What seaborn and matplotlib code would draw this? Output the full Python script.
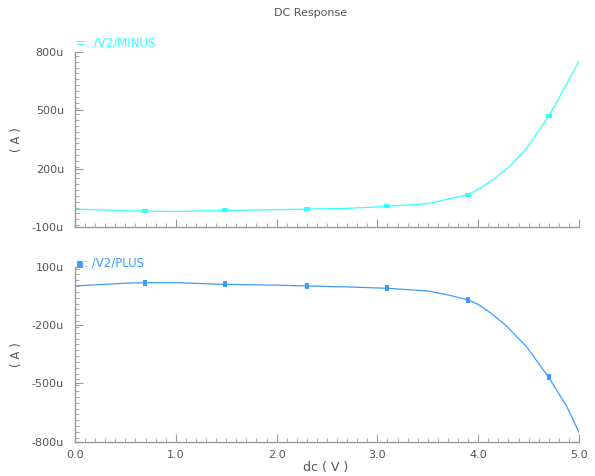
import matplotlib
matplotlib.use("Agg")
import matplotlib.pyplot as plt
from matplotlib.ticker import MultipleLocator, FuncFormatter
import seaborn as sns
import pandas as pd

# values (current in uA vs dc sweep in V)
dc_minus = [0.0, 0.5, 0.69, 1.0, 1.49, 2.0, 2.30, 2.7, 3.0, 3.10, 3.5, 3.90,
            4.0, 4.15, 4.32, 4.48, 4.70, 4.81, 5.0]
i_minus = [-8, -16, -18, -20, -15, -11, -8, -4, 3, 6, 20, 67,
           92, 145, 215, 305, 470, 571, 754]

dc_plus = [0.0, 0.5, 0.69, 1.0, 1.49, 2.0, 2.30, 2.7, 3.10, 3.5, 3.7, 3.90,
           4.0, 4.13, 4.27, 4.48, 4.70, 4.88, 5.0]
i_plus = [1, 15, 18, 18, 9, 5, 1, -4, -11, -25, -45, -71,
          -94, -140, -200, -312, -469, -620, -752]

marker_dc = [0.69, 1.49, 2.30, 3.10, 3.90, 4.70]

y_ticks_minus = [-100, 200, 500, 800]
y_ticks_plus = [-800, -500, -200, 100]
x_ticks = [0.0, 1.0, 2.0, 3.0, 4.0, 5.0]

minus_color = "#33FFFF"
plus_color = "#3D9BFF"
axis_color = "#9A9A9A"
text_color = "#555555"

sns.set_style("white")
plt.rcParams["font.family"] = ["DejaVu Sans"]
plt.rcParams["xtick.direction"] = "in"
plt.rcParams["ytick.direction"] = "in"

df_minus = pd.DataFrame({"dc": dc_minus, "i": i_minus})
df_plus = pd.DataFrame({"dc": dc_plus, "i": i_plus})

fig = plt.figure(figsize=(5.95, 4.76), dpi=100)
ax_top = fig.add_axes([75 / 595, 1 - 227 / 476, 504 / 595, 175 / 476])
ax_bot = fig.add_axes([75 / 595, 1 - 441.7 / 476, 504 / 595, 175 / 476])

hbar = [(-2, -1), (2, -1), (2, 1), (-2, 1)]
vbar = [(-1, -2), (1, -2), (1, 2), (-1, 2)]


def style_axis(ax, yticks, show_x):
    ax.set_xlim(0, 5)
    ax.set_ylim(yticks[0], yticks[-1])
    ax.set_yticks(yticks)
    ax.set_xticks(x_ticks)
    ax.yaxis.set_minor_locator(MultipleLocator(30))
    ax.xaxis.set_minor_locator(MultipleLocator(0.1))
    ax.yaxis.set_major_formatter(FuncFormatter(lambda v, p: f"{int(v)}u"))
    ax.xaxis.set_major_formatter(FuncFormatter(lambda v, p: f"{v:.1f}"))
    for side in ["top", "right"]:
        ax.spines[side].set_visible(False)
    for side in ["left", "bottom"]:
        ax.spines[side].set_color(axis_color)
        ax.spines[side].set_linewidth(1.0)
    ax.tick_params(which="both", direction="in", bottom=True, left=True,
                   top=False, right=False)
    ax.tick_params(which="major", length=6, width=0.8,
                   color=axis_color, labelcolor=text_color, labelsize=8)
    ax.tick_params(which="minor", length=3, width=0.6, color=axis_color)
    ax.tick_params(axis="y", which="major", pad=8)
    ax.tick_params(axis="x", which="major", pad=6, labelbottom=show_x)
    ax.set_xlabel("")
    ax.set_ylabel("( A )", color=text_color, fontsize=8.5)
    ax.yaxis.set_label_coords(-(75 - 23) / 504, 0.5)
    ax.grid(False)


sns.lineplot(data=df_minus, x="dc", y="i", ax=ax_top, color=minus_color, linewidth=0.9)
mk = df_minus[df_minus["dc"].isin(marker_dc)]
sns.scatterplot(data=mk, x="dc", y="i", ax=ax_top, color=minus_color,
                marker=hbar, s=22, linewidth=0, zorder=3)
style_axis(ax_top, y_ticks_minus, False)

sns.lineplot(data=df_plus, x="dc", y="i", ax=ax_bot, color=plus_color, linewidth=0.9)
mk = df_plus[df_plus["dc"].isin(marker_dc)]
sns.scatterplot(data=mk, x="dc", y="i", ax=ax_bot, color=plus_color,
                marker=vbar, s=22, linewidth=0, zorder=3)
style_axis(ax_bot, y_ticks_plus, True)

fig.text(76 / 595, 1 - 43 / 476, "=: /V2/MINUS", color=minus_color, fontsize=8.5,
         va="center", ha="left")
fig.text(76 / 595, 1 - 263 / 476, "\u25aa: /V2/PLUS", color=plus_color, fontsize=8.5,
         va="center", ha="left")
fig.text(311 / 595, 1 - 13 / 476, "DC Response", color=text_color, fontsize=8,
         va="center", ha="center")
fig.text(326 / 595, 1 - 467 / 476, "dc ( V )", color=text_color, fontsize=9,
         va="center", ha="center")

fig.savefig("out.png", dpi=100, facecolor="white")
